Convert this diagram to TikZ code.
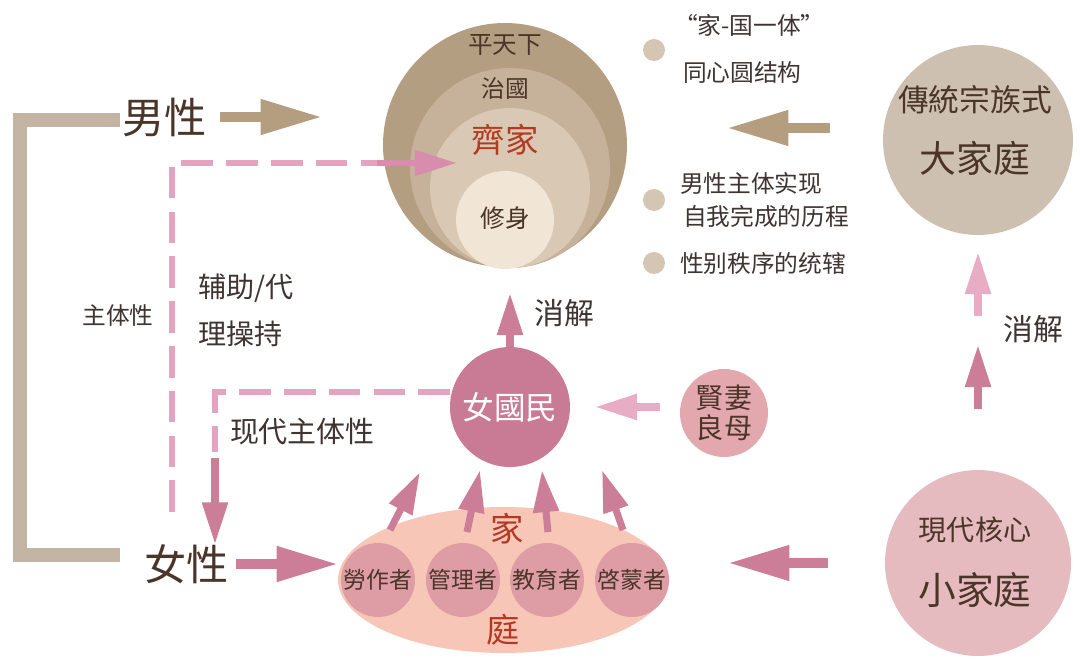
\documentclass[tikz,border=0pt]{standalone}
\usepackage{fontspec}
\newfontfamily\tcfont{Noto Sans CJK TC}
\newfontfamily\scfont{Noto Sans CJK SC}
\usetikzlibrary{arrows.meta,shapes.geometric}
\definecolor{tanA}{HTML}{B49E82}
\definecolor{tanB}{HTML}{C6B29A}
\definecolor{tanC}{HTML}{D9C8B3}
\definecolor{tanD}{HTML}{F1E6D6}
\definecolor{tanBar}{HTML}{C3B4A3}
\definecolor{tanArr}{HTML}{B59E80}
\definecolor{tanBig}{HTML}{CEC0B1}
\definecolor{dot}{HTML}{D5C6B3}
\definecolor{mauve}{HTML}{C97B96}
\definecolor{mauveArr}{HTML}{CC7E99}
\definecolor{lightArr}{HTML}{E8ADC5}
\definecolor{dashPink}{HTML}{E3A4BF}
\definecolor{headPink}{HTML}{D98DAE}
\definecolor{peach}{HTML}{F8C6B6}
\definecolor{dusty}{HTML}{DE9DA4}
\definecolor{xianqi}{HTML}{E3A8AE}
\definecolor{smallFam}{HTML}{E5BBBF}
\definecolor{ink}{HTML}{3E3431}
\definecolor{brownink}{HTML}{4B3529}
\definecolor{redink}{HTML}{B33A22}
\tikzset{
  every node/.style={inner sep=0pt, outer sep=0pt},
}
\newcommand{\fs}[1]{\fontsize{#1}{#1}\selectfont}

\begin{document}
\begin{tikzpicture}[
    x=0.02cm, y=-0.02cm,
    disc/.style={circle, minimum size=#1},
    oldtxt/.style={font=\tcfont\fs{#1}, text=brownink},
    newtxt/.style={font=\scfont\fs{#1}, text=ink},
    bigarr/.style={line width=5.5pt, -{Triangle[length=35pt,width=19pt]}},
    midarr/.style={line width=4pt, -{Triangle[length=24pt,width=14pt]}},
    dashline/.style={dashPink, line width=3.2pt, dash pattern=on 18pt off 7.5pt},
    ]
    \fill[white] (0,0) rectangle (1080,663);
    \useasboundingbox (0,0) rectangle (1080,663);

    % concentric circles
    \node[disc=4.88cm, fill=tanA] (outer) at (505,145) {};
    \node[disc=4cm, fill=tanB] (ring2) at (510,168) {};
    \node[disc=3.2cm, fill=tanC] (ring3) at (510,188) {};
    \node[disc=1.96cm, fill=tanD] (inner) at (505,220) {};
    \node[oldtxt=14] (ptx) at (505,45) {平天下};
    \node[oldtxt=13.5] (zg) at (505,89) {治國};
    \node[oldtxt=19, text=redink] (qj) at (505,140) {齊家};
    \node[oldtxt=14] (xs) at (505,218) {修身};

    % legend
    \node[disc=0.44cm, fill=dot] (b1) at (654,50) {};
    \node[newtxt=13.5, anchor=west] (l1) at (674,25) {“家-国一体”};
    \node[newtxt=13.5, anchor=west] (l2) at (683,72) {同心圆结构};
    \node[disc=0.44cm, fill=dot] (b2) at (654,200) {};
    \node[newtxt=13.5, anchor=west] (l3) at (680,183) {男性主体实现};
    \node[newtxt=13.5, anchor=west] (l4) at (683,216) {自我完成的历程};
    \node[disc=0.44cm, fill=dot] (b3) at (654,263) {};
    \node[newtxt=13.5, anchor=west] (l5) at (680,263) {性别秩序的统辖};

    % men / women
    \draw[tanBar, line width=8.5pt] (120,120) -| (20,555) -- (120,555);
    \node[oldtxt=24] (male) at (165,117) {男性};
    \node[oldtxt=24] (female) at (187,564) {女性};
    \node[newtxt=13.5] (zt) at (118,315) {主体性};
    \node[newtxt=16, anchor=west] (fz1) at (198,288) {辅助/代};
    \node[newtxt=16, anchor=west] (fz2) at (198,334) {理操持};
    \node[newtxt=16.5, anchor=west] (xd) at (230,432) {现代主体性};

    % nation and family
    \node[disc=2.4cm, fill=mauve, text=white, font=\tcfont\fs{18}] (ngm) at (510,407) {女國民};
    \node[disc=1.76cm, fill=xianqi, text=brownink, align=center,
      font=\tcfont\fontsize{16}{17}\selectfont] (xq) at (724,413) {賢妻\\良母};
    \node[newtxt=17] (xj1) at (564,313) {消解};
    \node[ellipse, minimum width=6.6cm, minimum height=2.92cm, fill=peach] (home) at (503,580) {};
    \node[disc=1.48cm, fill=dusty, oldtxt=13] (r1) at (378,580) {勞作者};
    \node[disc=1.48cm, fill=dusty, oldtxt=13] (r2) at (463,580) {管理者};
    \node[disc=1.48cm, fill=dusty, oldtxt=13] (r3) at (547,580) {教育者};
    \node[disc=1.48cm, fill=dusty, oldtxt=13] (r4) at (632,580) {啓蒙者};
    \node[oldtxt=19, text=redink] (jia) at (507,529) {家};
    \node[oldtxt=19, text=redink] (ting) at (503,630) {庭};

    % right side
    \node[disc=3.8cm, fill=tanBig] (djt) at (978,140) {};
    \node[oldtxt=17.5] (djt1) at (975,100) {傳統宗族式};
    \node[oldtxt=21] (djt2) at (975,158) {大家庭};
    \node[disc=3.72cm, fill=smallFam] (xjt) at (978,563) {};
    \node[oldtxt=16] (xjt1) at (975,530) {現代核心};
    \node[oldtxt=21.5] (xjt2) at (975,590) {小家庭};
    \node[newtxt=17] (xj2) at (1033,329) {消解};

    % arrows
    \draw[bigarr, tanArr, shorten <=0.26cm, shorten >=1.22cm] (male.east) -- (male.east -| outer.west);
    \draw[bigarr, mauveArr, shorten <=0.14cm] (female.east) -- (female.east -| home.west);
    \draw[bigarr, tanArr, shorten <=1.06cm, shorten >=2cm] (djt.west |- 0,128) -- (outer.east |- 0,128);
    \draw[bigarr, mauveArr, shorten <=1.14cm, shorten >=1.2cm] (xjt.west) -- (xjt.west -| home.east);
    \draw[midarr, mauveArr, shorten <=1.22cm, shorten >=2.2cm] (xjt.north) -- (djt.south);
    \draw[midarr, lightArr, shorten <=3.08cm, shorten >=0.34cm] (xjt.north) -- (djt.south);
    \draw[midarr, mauveArr] (ngm.north) -- ++(0,-54);
    \draw[midarr, lightArr, shorten <=0.4cm, shorten >=0.5cm] (xq.west |- ngm.east) -- (ngm.east);

    \coordinate (d1) at (172,512);
    \coordinate (d2) at (377,163);
    \draw[dashline] (d1) |- (d2);
    \draw[midarr, headPink, line width=3.4pt] (d2) -- (457,163);
    \coordinate (d3) at (215,452);
    \draw[dashline] ([yshift=0.3cm]ngm.west) -| (d3);
    \draw[midarr, mauveArr] ([yshift=-0.12cm]d3) -- (female.north -| d3);

    \coordinate (a1) at (390,530); \coordinate (t1) at (420,472);
    \coordinate (a2) at (467,532); \coordinate (t2) at (480,470);
    \coordinate (a3) at (548,532); \coordinate (t3) at (542,470);
    \coordinate (a4) at (623,530); \coordinate (t4) at (602,470);
    \draw[midarr, mauveArr] (a1) -- (t1);
    \draw[midarr, mauveArr] (a2) -- (t2);
    \draw[midarr, mauveArr] (a3) -- (t3);
    \draw[midarr, mauveArr] (a4) -- (t4);
\end{tikzpicture}
\end{document}
